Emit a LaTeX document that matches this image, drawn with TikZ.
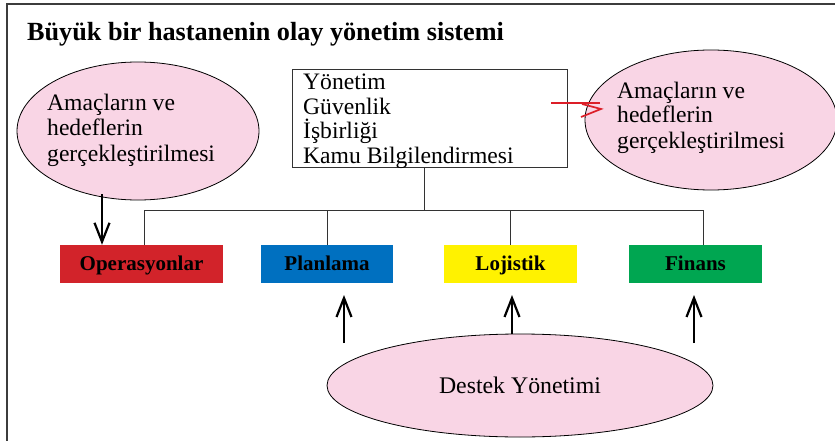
\documentclass[tikz,border=0pt]{standalone}
\usepackage{fontspec}
\setmainfont{Liberation Serif}
\usetikzlibrary{shapes.geometric,arrows.meta}
\definecolor{pinkfill}{RGB}{249,213,229}
\definecolor{opred}{RGB}{210,35,42}
\definecolor{planblue}{RGB}{0,112,192}
\definecolor{lojyellow}{RGB}{255,242,0}
\definecolor{fingreen}{RGB}{0,166,81}
\definecolor{arrred}{RGB}{220,30,40}
\definecolor{framegray}{RGB}{60,60,60}
\begin{document}
\begin{tikzpicture}[x=1pt,y=-1pt,
  goal/.style={ellipse, draw=black, line width=0.8pt, fill=pinkfill, inner sep=0pt},
  body/.style={align=left, inner sep=0pt},
  unit/.style={minimum height=38pt, inner sep=0pt, text height=15pt, text depth=3pt,
    font=\bfseries\fontsize{21}{24}\selectfont},
  link/.style={draw=black!80, line width=0.9pt},
  bigarrow/.style={line width=2.2pt, -{Straight Barb[length=19pt,width=15pt]}},
  redpen/.style={draw=arrred, line width=1.7pt, line join=miter}
]
\useasboundingbox (0,0) rectangle (835,441);
\fill[white] (0,0) rectangle (835,441);
\draw[framegray, line width=1.5pt] (7,441) -- (7,4) -- (835,4);

\node[anchor=base west, inner sep=0pt, font=\bfseries\fontsize{26.2}{30}\selectfont] (title) at (27,41)
  {Büyük bir hastanenin olay yönetim sistemi};

% central box
\node[draw=black!80, line width=0.9pt, minimum width=275pt, minimum height=98pt, inner sep=0pt,
  anchor=north west] (mgmt) at (292,69) {};
\node[body, anchor=base west, font=\fontsize{23.6}{24.4}\selectfont] (mgmttext) at (303,163)
  {Yönetim\\Güvenlik\\İşbirliği\\Kamu Bilgilendirmesi};

% goal ellipses
\node[goal, minimum width=242pt, minimum height=138pt] (goalL) at (138,131) {};
\node[body, anchor=base west, font=\fontsize{23.6}{25.5}\selectfont] (goalLtext) at (47,161)
  {Amaçların ve\\hedeflerin\\gerçekleştirilmesi};
\node[goal, minimum width=252pt, minimum height=140pt] (goalR) at (711,120) {};
\node[body, anchor=base west, font=\fontsize{23.6}{25}\selectfont] (goalRtext) at (617,148)
  {Amaçların ve\\hedeflerin\\gerçekleştirilmesi};

% units
\node[unit, fill=opred, minimum width=163pt] (op) at (141.5,264) {Operasyonlar};
\node[unit, fill=planblue, minimum width=132pt] (plan) at (327,264) {Planlama};
\node[unit, fill=lojyellow, minimum width=133pt] (loj) at (510.5,264) {Lojistik};
\node[unit, fill=fingreen, minimum width=133pt] (fin) at (695.5,264) {Finans};

% support ellipse
\node[goal, minimum width=386pt, minimum height=103pt, font=\fontsize{23.8}{26}\selectfont]
  (destek) at (520,385.5) {Destek Yönetimi};

% tree connectors
\coordinate (bus) at (424,210);
\coordinate (dropL) at (144,210);
\coordinate (dropR) at (703,210);
\draw[link] (bus |- mgmt.south) -- (bus);
\draw[link] (dropL |- op.north) -- (dropL) -- (dropR) -- (dropR |- fin.north);
\draw[link] (plan.north) -- (plan.north |- bus);
\draw[link] (loj.north) -- (loj.north |- bus);

% arrows
\coordinate (dnTail) at (102,194);
\draw[bigarrow] (dnTail) -- (dnTail |- op.north);
\coordinate (u1) at (344,343);
\coordinate (u1t) at (344,295);
\coordinate (u2) at (512,334);
\coordinate (u2t) at (512,295);
\coordinate (u3) at (694,343);
\coordinate (u3t) at (694,295);
\draw[bigarrow] (u1) -- (u1t);
\draw[bigarrow] (u2) -- (u2t);
\draw[bigarrow] (u3) -- (u3t);

% red hand-drawn arrow
\coordinate (rTail) at (551,103);
\coordinate (rEnd) at (600,103);
\coordinate (rW1) at (582,104);
\coordinate (rTip) at (601,109);
\coordinate (rW2) at (581,117);
\draw[redpen] (rTail) -- (rEnd);
\draw[redpen] (rW1) -- (rTip) -- (rW2);
\end{tikzpicture}
\end{document}
